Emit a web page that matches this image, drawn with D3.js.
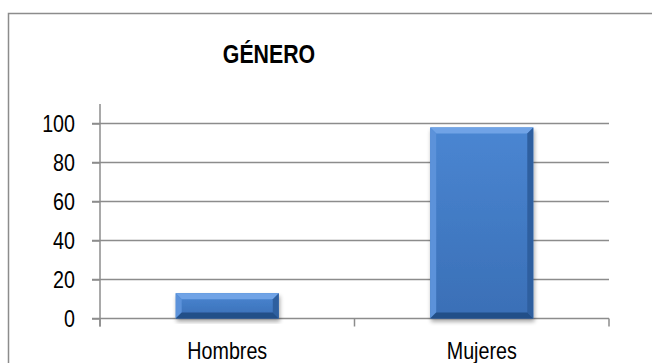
<!DOCTYPE html>
<head>
    <meta charset="utf-8">
    <style>
        body { margin: 0; background: #fff; }
        text { font-family: "Liberation Sans Narrow", "Arial Narrow", "Liberation Sans", Arial, sans-serif; fill: #000; }
    </style>
</head>
<body>
    <script src="https://d3js.org/d3.v7.min.js"></script>
    <script>

        // data
        var categories = ["Hombres", "Mujeres"];
        var values = [13, 98];
        var yTicks = [0, 20, 40, 60, 80, 100];
        var title = "GÉNERO";

        var W = 652, H = 363;
        var plotLeft = 100, plotRight = 609, plotTop = 104, plotBottom = 318.5;

        var svg = d3.select("body").append("svg")
            .attr("width", W)
            .attr("height", H);

        // squeeze text horizontally to mimic a narrow face
        function narrow(sel) {
            sel.each(function() {
                var len = this.getComputedTextLength();
                d3.select(this).attr("textLength", len * 0.82).attr("lengthAdjust", "spacingAndGlyphs");
            });
        }

        // outer frame (runs off the right and bottom edges)
        svg.append("rect")
            .attr("x", 8.5).attr("y", 13.5)
            .attr("width", 700).attr("height", 400)
            .attr("fill", "none")
            .attr("stroke", "#8c8c8c")
            .attr("stroke-width", 1.5);

        // title
        svg.append("text")
            .attr("x", 269).attr("y", 63)
            .attr("text-anchor", "middle")
            .style("font-weight", "bold")
            .style("font-size", "26px")
            .text(title)
            .call(narrow);

        var x = d3.scaleBand().domain(categories).range([plotLeft, plotRight]);
        var y = d3.scaleLinear().domain([0, 110]).range([plotBottom, plotTop]);

        // gridlines
        svg.append("g")
            .selectAll("line")
            .data(yTicks)
            .enter().append("line")
            .attr("x1", plotLeft - 8).attr("x2", plotRight)
            .attr("y1", function(d) { return y(d); })
            .attr("y2", function(d) { return y(d); })
            .attr("stroke", "#8c8c8c")
            .attr("stroke-width", 1.5);

        // y axis
        var yAxis = svg.append("g")
            .attr("transform", "translate(" + plotLeft + ",0)")
            .call(d3.axisLeft(y).tickValues(yTicks).tickSize(8).tickPadding(17));
        yAxis.select(".domain").attr("stroke", "#8c8c8c").attr("stroke-width", 1.5)
            .attr("d", "M0," + plotTop + "V" + (plotBottom + 8));
        yAxis.selectAll(".tick line").attr("stroke", "#8c8c8c").attr("stroke-width", 1.5);
        yAxis.selectAll(".tick text")
            .style("font-size", "24px")
            .attr("fill", "#000")
            .call(narrow);
        yAxis.attr("font-family", null);

        // x axis ticks (category boundaries)
        var bounds = [plotLeft].concat(categories.map(function(c) { return x(c) + x.bandwidth(); }));
        svg.append("g")
            .selectAll("line")
            .data(bounds)
            .enter().append("line")
            .attr("x1", function(d) { return d; }).attr("x2", function(d) { return d; })
            .attr("y1", plotBottom).attr("y2", plotBottom + 8)
            .attr("stroke", "#8c8c8c")
            .attr("stroke-width", 1.5);

        // x labels
        svg.append("g")
            .selectAll("text")
            .data(categories)
            .enter().append("text")
            .attr("x", function(d) { return x(d) + x.bandwidth() / 2; })
            .attr("y", 359)
            .attr("text-anchor", "middle")
            .style("font-size", "24px")
            .text(function(d) { return d; })
            .call(narrow);

        // gradients and shadow for bevelled bars
        var defs = svg.append("defs");
        var face = defs.append("linearGradient").attr("id", "face")
            .attr("x1", 0).attr("y1", 0).attr("x2", 0).attr("y2", 1);
        face.append("stop").attr("offset", "0%").attr("stop-color", "#4a86d2");
        face.append("stop").attr("offset", "100%").attr("stop-color", "#3a6fb6");
        var shadow = defs.append("filter").attr("id", "shadow")
            .attr("x", "-20%").attr("y", "-20%").attr("width", "140%").attr("height", "140%");
        shadow.append("feGaussianBlur").attr("in", "SourceAlpha").attr("stdDeviation", 2);
        shadow.append("feOffset").attr("dx", 1).attr("dy", 3).attr("result", "b");
        shadow.append("feComponentTransfer").append("feFuncA").attr("type", "linear").attr("slope", 0.35);
        var merge = shadow.append("feMerge");
        merge.append("feMergeNode");
        merge.append("feMergeNode").attr("in", "SourceGraphic");

        var barW = x.bandwidth() * 0.405;
        var bev = 6;

        var bars = svg.append("g")
            .selectAll("g")
            .data(values)
            .enter().append("g")
            .attr("filter", "url(#shadow)");

        function geom(d, i) {
            var cx = x(categories[i]) + x.bandwidth() / 2;
            return { x0: cx - barW / 2, x1: cx + barW / 2, y0: y(d), y1: y(0) };
        }

        bars.append("rect")
            .attr("x", function(d, i) { return geom(d, i).x0; })
            .attr("y", function(d, i) { return geom(d, i).y0; })
            .attr("width", barW)
            .attr("height", function(d, i) { var g = geom(d, i); return g.y1 - g.y0; })
            .attr("fill", "url(#face)");

        // bevel edges: top, left, right, bottom
        var sides = [
            { fill: "#6fa3e6", pts: function(g) { return [[g.x0, g.y0], [g.x1, g.y0], [g.x1 - bev, g.y0 + bev], [g.x0 + bev, g.y0 + bev]]; } },
            { fill: "#5b92da", pts: function(g) { return [[g.x0, g.y0], [g.x0 + bev, g.y0 + bev], [g.x0 + bev, g.y1 - bev], [g.x0, g.y1]]; } },
            { fill: "#2f5f9f", pts: function(g) { return [[g.x1, g.y0], [g.x1, g.y1], [g.x1 - bev, g.y1 - bev], [g.x1 - bev, g.y0 + bev]]; } },
            { fill: "#244f88", pts: function(g) { return [[g.x0, g.y1], [g.x0 + bev, g.y1 - bev], [g.x1 - bev, g.y1 - bev], [g.x1, g.y1]]; } }
        ];
        sides.forEach(function(s) {
            bars.append("polygon")
                .attr("points", function(d, i) { return s.pts(geom(d, i)).map(function(p) { return p.join(","); }).join(" "); })
                .attr("fill", s.fill);
        });

    </script>
</body>
